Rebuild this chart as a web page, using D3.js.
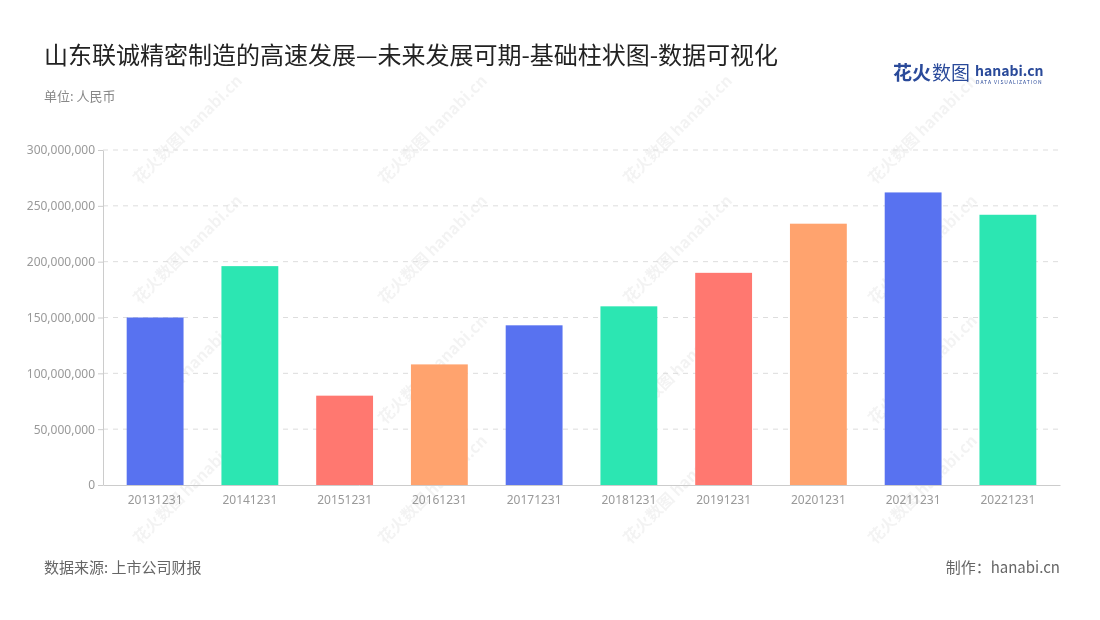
<!DOCTYPE html><html><head><meta charset="utf-8">
<script src="https://cdn.jsdelivr.net/npm/d3@7"></script>
<style>body{margin:0;background:#fff;font-family:"Noto Sans CJK SC","Noto Sans",sans-serif}</style></head><body>
<svg id="c" width="1100" height="620"></svg>
<script>
const categories=["20131231","20141231","20151231","20161231","20171231","20181231","20191231","20201231","20211231","20221231"];
const values=[150000000,196000000,80000000,108000000,143000000,160000000,190000000,234000000,262000000,242000000];
const colors=["#5872F0","#2CE6B2","#FF7870","#FFA36E"];
const yTicks=[0,50000000,100000000,150000000,200000000,250000000,300000000];
const svg=d3.select("#c");
const m={l:103,r:1060,t:150,b:485};
const x=d3.scaleBand().domain(categories).range([m.l,m.r]).paddingInner(0.4).paddingOuter(0.25);
const y=d3.scaleLinear().domain([0,300000000]).range([m.b,m.t]);
// watermarks
const wm=svg.append("g").attr("fill","#000").attr("opacity",0.05).attr("font-weight","bold").attr("font-size",16);
for(let i=0;i<4;i++)for(let j=0;j<4;j++){const cx=385+(i-1)*245,cy=185+j*120;
 wm.append("text").attr("transform",`translate(${cx},${cy}) rotate(-45)`).text("花火数图 hanabi.cn");}
svg.append("g").selectAll("line").data(yTicks.slice(1)).join("line")
 .attr("x1",m.l).attr("x2",m.r).attr("y1",d=>y(d)).attr("y2",d=>y(d))
 .attr("stroke","#ddd").attr("stroke-dasharray","5,5");
svg.append("g").selectAll("rect").data(values).join("rect")
 .attr("x",(d,i)=>x(categories[i])).attr("width",x.bandwidth())
 .attr("y",d=>y(d)).attr("height",d=>m.b-y(d)).attr("fill",(d,i)=>colors[i%4]);
const ya=svg.append("g").attr("transform",`translate(${m.l},0)`)
 .call(d3.axisLeft(y).tickValues(yTicks).tickFormat(d3.format(",")).tickSize(5).tickSizeOuter(0));
ya.selectAll("text").attr("fill","#999").attr("font-size",12).attr("font-family","Noto Sans");
ya.selectAll("line,path").attr("stroke","#ccc");
const xa=svg.append("g").attr("transform",`translate(0,${m.b})`)
 .call(d3.axisBottom(x).tickSize(0).tickPadding(10));
xa.selectAll("text").attr("fill","#999").attr("font-size",12).attr("font-family","Noto Sans");
xa.select("path").attr("stroke","#ccc");
svg.append("text").attr("x",44).attr("y",64).attr("font-size",24).attr("fill","#222").text("山东联诚精密制造的高速发展—未来发展可期-基础柱状图-数据可视化");
svg.append("text").attr("x",44).attr("y",101).attr("font-size",13).attr("fill","#888").text("单位: 人民币");
svg.append("text").attr("x",44).attr("y",573).attr("font-size",15).attr("fill","#666").text("数据来源: 上市公司财报");
svg.append("text").attr("x",1060).attr("y",573).attr("text-anchor","end").attr("font-size",15).attr("fill","#666").text("制作：hanabi.cn");
svg.append("text").attr("x",893).attr("y",80).attr("font-size",19).attr("font-weight","bold").attr("fill","#2a4a9a").text("花火");
svg.append("text").attr("x",932).attr("y",80).attr("font-size",19).attr("fill","#2a4a9a").text("数图");
svg.append("text").attr("x",975).attr("y",76).attr("font-size",14).attr("font-weight","bold").attr("fill","#2a4a9a").text("hanabi.cn");
svg.append("text").attr("x",976).attr("y",84).attr("font-size",5).attr("fill","#2a4a9a").attr("letter-spacing",1).text("DATA VISUALIZATION");
</script></body></html>
